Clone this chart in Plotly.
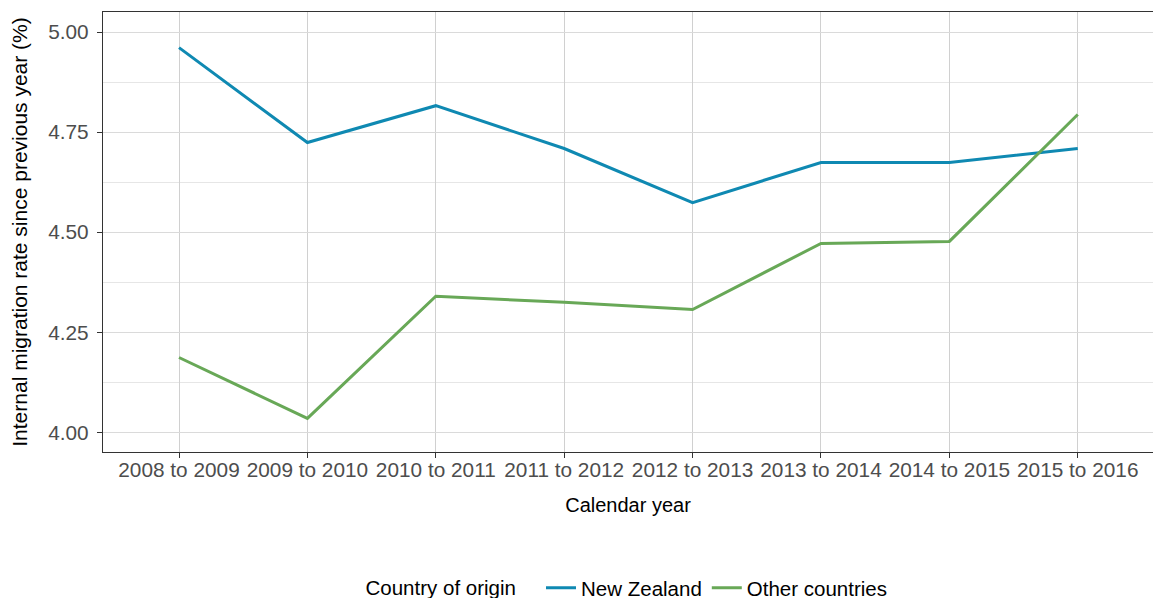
import plotly.graph_objects as go

years = ["2008 to 2009", "2009 to 2010", "2010 to 2011", "2011 to 2012",
         "2012 to 2013", "2013 to 2014", "2014 to 2015", "2015 to 2016"]
new_zealand = [4.961, 4.724, 4.816, 4.709, 4.574, 4.674, 4.674, 4.709]
other_countries = [4.187, 4.035, 4.340, 4.325, 4.307, 4.472, 4.477, 4.794]
y_ticks = [4.00, 4.25, 4.50, 4.75, 5.00]
y_tick_labels = ["4.00", "4.25", "4.50", "4.75", "5.00"]

FONT = "Liberation Sans, Arial, sans-serif"

fig = go.Figure()
fig.add_trace(go.Scatter(x=years, y=new_zealand, mode="lines", name="New Zealand",
                         line=dict(color="#0F89B2", width=3)))
fig.add_trace(go.Scatter(x=years, y=other_countries, mode="lines", name="Other countries",
                         line=dict(color="#68A857", width=3)))

fig.update_layout(
    width=1153, height=598,
    margin=dict(l=103, r=0, t=12, b=146, autoexpand=False),
    paper_bgcolor="white", plot_bgcolor="white",
    font=dict(family=FONT, color="black"),
    showlegend=True,
    legend=dict(orientation="h", x=0.5, xanchor="center",
                yref="paper", y=(452 - 588) / 440, yanchor="middle",
                title=dict(text="Country of origin   ", side="left", font=dict(size=20.5, color="black")),
                font=dict(size=20.5, color="black"), itemwidth=30, tracegroupgap=0),
)
fig.update_xaxes(
    type="category", range=[-0.592, 7.586], automargin=False,
    showline=True, linecolor="#333333", linewidth=1.3, mirror=True,
    ticks="outside", ticklen=5, tickcolor="#333333", tickwidth=1.3,
    showgrid=True, gridcolor="#D0D0D0", gridwidth=1,
    tickfont=dict(size=20.8, color="#4D4D4D"), ticklabelstandoff=-6,
    title=dict(text="Calendar year", font=dict(size=20, color="black"), standoff=17),
    zeroline=False,
)
fig.update_yaxes(
    range=[3.951, 5.050], automargin=False,
    tickvals=y_ticks, ticktext=y_tick_labels,
    showline=True, linecolor="#333333", linewidth=1.3,
    ticks="outside", ticklen=5, tickcolor="#333333", tickwidth=1.3,
    showgrid=True, gridcolor="#DADADA", gridwidth=1,
    minor=dict(dtick=0.125, tick0=4.125, showgrid=True, gridcolor="#E6E6E6", gridwidth=0.8, ticks=""),
    tickfont=dict(size=20.8, color="#4D4D4D"), ticklabelstandoff=4,
    title=dict(text="Internal migration rate since previous year (%)", font=dict(size=21, color="black"), standoff=14),
    zeroline=False,
)

fig.write_html("out.html", config={"responsive": False, "displayModeBar": False},
               post_script="document.body.style.margin='0';document.body.style.overflow='hidden';")
